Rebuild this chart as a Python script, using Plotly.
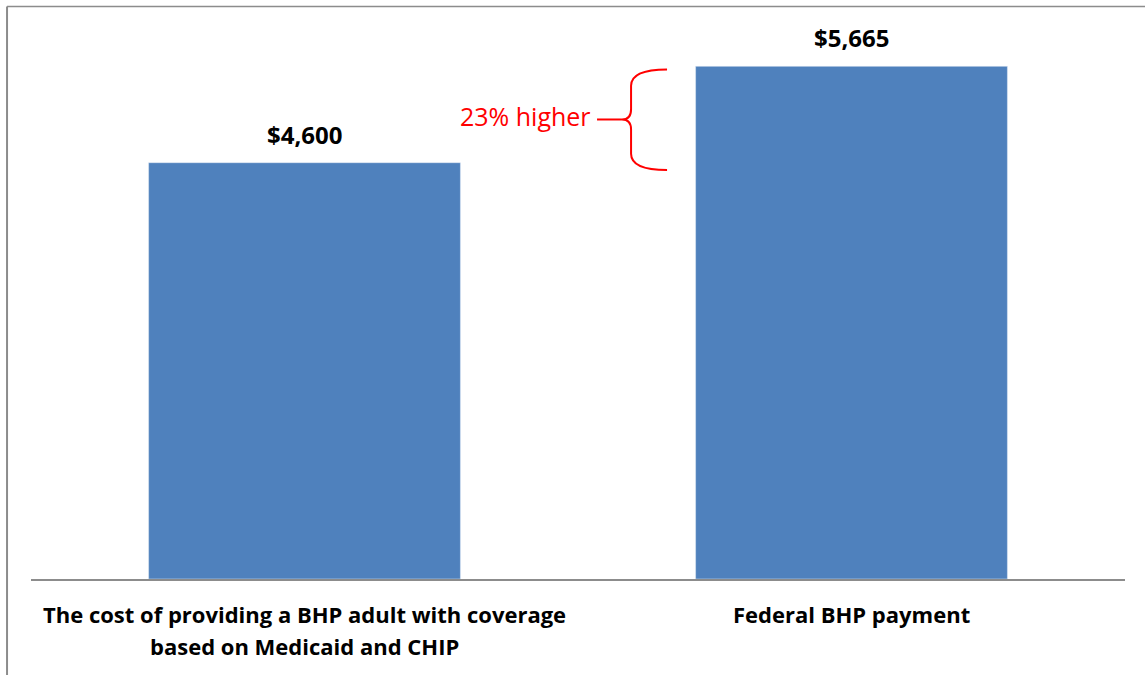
import plotly.graph_objects as go

categories = ["The cost of providing a BHP adult with coverage based on Medicaid and CHIP",
              "Federal BHP payment"]
label_lines = [["The cost of providing a BHP adult with coverage", "based on Medicaid and CHIP"],
               ["Federal BHP payment"]]
values = [4600, 5665]
value_labels = ["$4,600", "$5,665"]
diff_label = "23% higher"

BAR = "#4F81BD"
GRAY = "#8C8C8C"
FONT = "Open Sans"

fig = go.Figure()
fig.add_trace(go.Bar(x=[0, 1], y=values, marker_color=BAR, width=0.57,
                     hoverinfo="skip"))

ann = []
for i, (v, t) in enumerate(zip(values, value_labels)):
    ann.append(dict(x=i, y=v, xref="x", yref="y", text="<b>%s</b>" % t, showarrow=False,
                    yanchor="bottom", yshift=10, font=dict(family=FONT, size=24, color="black")))
for i, lines in enumerate(label_lines):
    for j, line in enumerate(lines):
        ann.append(dict(x=i, y=0, xref="x", yref="y", text="<b>%s</b>" % line, showarrow=False,
                        yanchor="middle", yshift=-35 - 32 * j,
                        font=dict(family=FONT, size=22, color="black")))

# brace between the two values
top, bot = values[1], values[0]
mid = (top + bot) / 2
yt = top - 36
yb = bot - 80
ym = mid - 55
x0, x1, xt, xl = 0.5814, 0.5485, 0.5402, 0.5174
path = (f"M {x0},{yt} Q {x1},{yt} {x1},{yt-180} L {x1},{ym+110} Q {x1},{ym} {xt},{ym} "
        f"Q {x1},{ym} {x1},{ym-110} L {x1},{yb+180} Q {x1},{yb} {x0},{yb}")
shapes = [
    dict(type="path", xref="paper", yref="y", path=path, line=dict(color="red", width=2)),
    dict(type="line", xref="paper", yref="y", x0=xl, x1=xt, y0=ym, y1=ym,
         line=dict(color="red", width=2)),
    # outer frame
    dict(type="line", xref="paper", yref="paper", x0=-0.0219, x1=-0.0219, y0=1.0542, y1=-0.2,
         line=dict(color=GRAY, width=2)),
    dict(type="line", xref="paper", yref="paper", x0=-0.0219, x1=1.1, y0=1.0542, y1=1.0542,
         line=dict(color=GRAY, width=1.5)),
]
ann.append(dict(x=xl, y=ym, xref="paper", yref="y", text=diff_label, showarrow=False,
                xanchor="right", xshift=-4, yshift=3, font=dict(family=FONT, size=25, color="red")))

fig.update_layout(
    width=1145, height=675,
    margin=dict(l=31, r=20, t=36, b=96),
    plot_bgcolor="white", paper_bgcolor="white",
    showlegend=False,
    xaxis=dict(range=[-0.5, 1.5], showticklabels=False, showgrid=False, zeroline=False,
               showline=True, linecolor=GRAY, linewidth=2, fixedrange=True),
    yaxis=dict(range=[0, 6000], visible=False, fixedrange=True),
    annotations=ann, shapes=shapes,
)
fig.write_html("out.html", config={"displayModeBar": False})
